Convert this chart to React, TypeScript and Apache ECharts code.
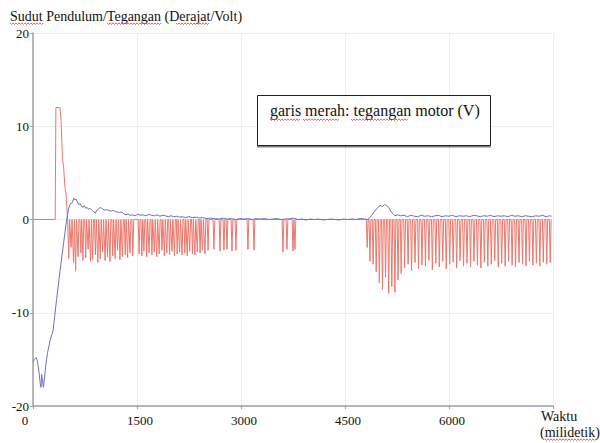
import React, { useEffect, useRef } from "react";
import * as echarts from "echarts";

// ---- Data ----
const xTicks = [0, 1500, 3000, 4500, 6000, 7500];
const yTicks = [-20, -10, 0, 10, 20];

// Blue: pendulum angle (degrees)
const blueTimes = [
  0, 20, 45, 65, 85, 105, 115, 125, 138, 150, 165, 185, 210, 245, 290, 340, 390, 440, 486, 515,
  540, 565, 590, 605, 620, 640, 660, 680, 700, 720, 740, 760, 780, 800, 820, 850, 880, 900, 920, 945,
  966, 990, 1010, 1040, 1070, 1100, 1130, 1160, 1190, 1220, 1250, 1280, 1310, 1340, 1370, 1400, 1430, 1470, 1510, 1550,
  1590, 1630, 1670, 1710, 1750, 1790, 1830, 1870, 1910, 1950, 1990, 2030, 2070, 2110, 2150, 2200, 2250, 2300, 2350, 2400,
  2450, 2500, 2560, 2620, 2680, 2740, 2800, 2860, 2920, 2980, 3040, 3100, 3160, 3220, 3280, 3340, 3400, 3460, 3520, 3580,
  3640, 3700, 3760, 3820, 3880, 3940, 4000, 4060, 4120, 4180, 4240, 4300, 4360, 4420, 4480, 4540, 4600, 4660, 4720, 4780,
  4830, 4880, 4930, 4975, 5005, 5040, 5070, 5100, 5130, 5160, 5190, 5220, 5260, 5300, 5350, 5400, 5450, 5500, 5550, 5600,
  5650, 5700, 5750, 5800, 5850, 5900, 5950, 6000, 6050, 6100, 6150, 6200, 6250, 6300, 6350, 6400, 6450, 6500, 6550, 6600,
  6650, 6700, 6750, 6800, 6850, 6900, 6950, 7000, 7050, 7100, 7150, 7200, 7250, 7300, 7350, 7400, 7450, 7480,
];
const blueValues = [
  -15.3, -15.0, -14.8, -15.2, -16.3, -17.6, -18.0, -16.6, -17.4, -18.0, -17.0, -15.6, -14.3, -13.0, -11.9, -8.6, -5.5, -2.6, 0.0, 1.2,
  1.7, 1.8, 2.3, 2.1, 2.2, 1.9, 1.6, 1.7, 1.4, 1.3, 1.5, 1.2, 1.3, 1.1, 1.2, 1.0, 0.8, 0.7, 1.0, 1.1,
  1.3, 1.2, 1.1, 1.0, 1.05, 0.95, 0.9, 1.0, 0.85, 0.8, 0.75, 0.8, 0.6, 0.5, 0.6, 0.45, 0.5, 0.4, 0.55, 0.45,
  0.5, 0.4, 0.55, 0.45, 0.4, 0.5, 0.35, 0.45, 0.4, 0.3, 0.4, 0.3, 0.35, 0.25, 0.3, 0.2, 0.3, 0.2, 0.25, 0.15,
  0.2, 0.1, 0.15, 0.1, 0.05, 0.15, 0.05, 0.1, 0.0, 0.1, 0.05, 0.1, 0.0, 0.1, 0.05, 0.1, 0.0, 0.05, 0.1, 0.0,
  0.05, 0.1, 0.15, 0.0, 0.05, -0.05, 0.05, 0.0, 0.05, -0.05, 0.0, 0.05, 0.0, -0.05, 0.05, 0.0, 0.05, 0.0, 0.1, 0.05,
  0.0, 0.4, 0.9, 1.3, 1.5, 1.4, 1.6, 1.5, 1.3, 0.9, 0.6, 0.4, 0.5, 0.4, 0.45, 0.3, 0.45, 0.35, 0.3, 0.45,
  0.35, 0.4, 0.3, 0.4, 0.45, 0.3, 0.4, 0.35, 0.45, 0.3, 0.4, 0.35, 0.4, 0.3, 0.45, 0.4, 0.3, 0.4, 0.35, 0.45,
  0.3, 0.4, 0.35, 0.4, 0.3, 0.45, 0.35, 0.4, 0.3, 0.4, 0.35, 0.3, 0.4, 0.35, 0.45, 0.3, 0.4, 0.35,
];

// Red: motor voltage (V) – initial pulse
const pulseTimes = [0, 320, 330, 390, 405, 425, 440, 460, 475, 500];
const pulseValues = [0, 0, 12, 12, 10.5, 6.5, 5.8, 3.5, 2.8, 0];

// Red: negative voltage spikes (time of spike, depth in volts)
const spikeTimes = [
  515, 550, 585, 615, 650, 690, 720, 760, 795, 830, 860, 900, 935, 970, 1005, 1040, 1075, 1110, 1150, 1185,
  1220, 1255, 1290, 1330, 1365, 1400, 1440,
  1530, 1570, 1600, 1640, 1675, 1715, 1750, 1785, 1820, 1860, 1895, 1930, 1970, 2005, 2040, 2080, 2115, 2150,
  2190, 2225, 2260, 2300, 2335, 2370, 2410, 2445, 2480,
  2525, 2610, 2697, 2754, 2798, 2870, 2927, 3100, 3187, 3605, 3663, 3750, 3778,
  4820, 4860, 4905, 4950, 4995, 5040, 5085, 5130, 5175, 5220, 5265, 5310, 5360, 5410, 5460, 5510, 5560, 5610,
  5660, 5710, 5760, 5810, 5860, 5910, 5960, 6010, 6060, 6110, 6160, 6210, 6260, 6310, 6360, 6410, 6460, 6510,
  6560, 6610, 6660, 6710, 6760, 6810, 6860, 6910, 6960, 7010, 7060, 7110, 7160, 7210, 7260, 7310, 7360, 7410, 7460,
];
const spikeDepths = [
  4.2, 3.0, 4.6, 5.5, 4.0, 3.6, 4.4, 4.1, 3.2, 4.5, 4.3, 3.8, 4.6, 4.2, 3.5, 4.4, 4.0, 4.5, 3.9, 4.2,
  3.3, 4.3, 4.0, 3.8, 4.1, 3.6, 3.9,
  3.7, 3.9, 3.4, 4.0, 3.6, 3.8, 3.5, 4.0, 3.7, 3.3, 3.9, 3.6, 3.8, 3.4, 3.9, 3.7, 3.5, 3.8,
  3.6, 3.9, 3.4, 3.7, 3.8, 3.5, 3.6, 3.3, 3.7,
  3.3, 3.2, 3.4, 3.3, 3.2, 3.4, 3.3, 3.2, 3.3, 3.5, 3.2, 3.4, 3.2,
  3.0, 4.5, 4.8, 5.6, 6.8, 7.5, 6.2, 7.9, 7.2, 7.8, 6.5, 5.8, 5.2, 4.8, 5.5, 4.6, 5.3, 4.9,
  5.0, 4.4, 5.4, 4.7, 5.1, 4.5, 5.3, 4.8, 4.6, 5.2, 4.4, 5.0, 4.7, 5.1, 4.5, 4.9, 5.2, 4.6,
  5.0, 4.8, 4.4, 5.1, 4.7, 5.0, 4.5, 4.9, 5.1, 4.6, 4.8, 5.0, 4.5, 4.9, 4.7, 5.0, 4.6, 4.8, 4.6,
];

const FONT = '"Liberation Serif", "Times New Roman", serif';

function squiggle(x0: number, x1: number, y: number) {
  const pts: number[][] = [];
  let i = 0;
  for (let x = x0; x <= x1; x += 1.5, i++) pts.push([x, i % 2 ? y + 1 : y - 0.6]);
  return {
    type: "polyline",
    silent: true,
    shape: { points: pts },
    style: { stroke: "#e23a3a", lineWidth: 0.8, fill: null },
    z: 10,
  };
}

export default function App() {
  const ref = useRef<HTMLDivElement>(null);

  useEffect(() => {
    if (!ref.current) return;
    const chart = echarts.init(ref.current, undefined, { renderer: "svg" });

    const blueData = blueTimes.map((t, i) => [t, blueValues[i]]);
    const redData: number[][] = pulseTimes.map((t, i) => [t, pulseValues[i]]);
    spikeTimes.forEach((t, i) => {
      redData.push([t - 13, 0], [t, -spikeDepths[i]], [t + 13, 0]);
    });

    chart.setOption({
      animation: false,
      backgroundColor: "#ffffff",
      grid: { left: 33, right: 47, top: 33, bottom: 37, containLabel: false },
      xAxis: {
        type: "value",
        min: xTicks[0],
        max: xTicks[xTicks.length - 1],
        interval: 1500,
        axisLine: { onZero: false, lineStyle: { color: "#a0a0a0", width: 1.5 } },
        axisTick: { show: true, length: 3, lineStyle: { color: "#a0a0a0" } },
        splitLine: { show: true, lineStyle: { color: "#efefef", width: 1 } },
        axisLabel: {
          margin: 8,
          fontFamily: FONT,
          fontSize: 13,
          color: "#111",
          formatter: (v: number) => {
            if (v === 7500) return "";
            if (v === 0) return "{z|0}";
            return "{n|" + v + "}";
          },
          rich: {
            z: { fontFamily: FONT, fontSize: 13, color: "#111", padding: [0, 16, 0, 0] },
            n: { fontFamily: FONT, fontSize: 13, color: "#111", padding: [0, 0, 0, 6] },
          },
        },
      },
      yAxis: {
        type: "value",
        min: yTicks[0],
        max: yTicks[yTicks.length - 1],
        interval: 10,
        axisLine: { show: true, onZero: false, lineStyle: { color: "#a0a0a0", width: 1.5 } },
        axisTick: { show: true, length: 3, lineStyle: { color: "#a0a0a0" } },
        splitLine: { show: true, lineStyle: { color: "#efefef", width: 1 } },
        axisLabel: { margin: 4, fontFamily: FONT, fontSize: 13, color: "#111" },
      },
      series: [
        {
          name: "Tegangan motor",
          type: "line",
          data: redData,
          showSymbol: false,
          symbol: "none",
          lineStyle: { color: "#ec776b", width: 1 },
          z: 2,
        },
        {
          name: "Sudut pendulum",
          type: "line",
          data: blueData,
          showSymbol: false,
          symbol: "none",
          lineStyle: { color: "#6a70c4", width: 1 },
          z: 3,
        },
      ],
      graphic: [
        {
          type: "text",
          left: 10,
          top: 9,
          style: { text: "Sudut Pendulum/Tegangan (Derajat/Volt)", font: `14px ${FONT}`, fill: "#111" },
        },
        squiggle(10, 43, 23.5),
        squiggle(107, 162, 23.5),
        squiggle(176, 210, 23.5),
        {
          type: "rect",
          shape: { x: 257.5, y: 95.5, width: 233, height: 50 },
          style: {
            fill: "#ffffff",
            stroke: "#222",
            lineWidth: 1,
            shadowColor: "rgba(0,0,0,0.5)",
            shadowOffsetY: 1.5,
            shadowOffsetX: 0,
            shadowBlur: 0,
          },
          z: 5,
        },
        {
          type: "text",
          x: 270,
          y: 110.5,
          style: {
            text: "garis merah: tegangan motor (V)",
            font: `16px ${FONT}`,
            fill: "#111",
            verticalAlign: "middle",
          },
          z: 6,
        },
        squiggle(270, 300, 119.5),
        squiggle(303, 340, 119.5),
        squiggle(351, 408, 119.5),
        {
          type: "text",
          x: 541,
          y: 416.5,
          style: { text: "Waktu", font: `14px ${FONT}`, fill: "#111", verticalAlign: "middle" },
        },
        {
          type: "text",
          x: 540,
          y: 432,
          style: { text: "(milidetik)", font: `14px ${FONT}`, fill: "#111", verticalAlign: "middle" },
        },
        squiggle(545, 597, 439.5),
      ],
    });

    return () => chart.dispose();
  }, []);

  return (
    <div
      ref={ref}
      style={{ position: "fixed", left: 0, top: 0, width: 600, height: 443, background: "#fff" }}
    />
  );
}
